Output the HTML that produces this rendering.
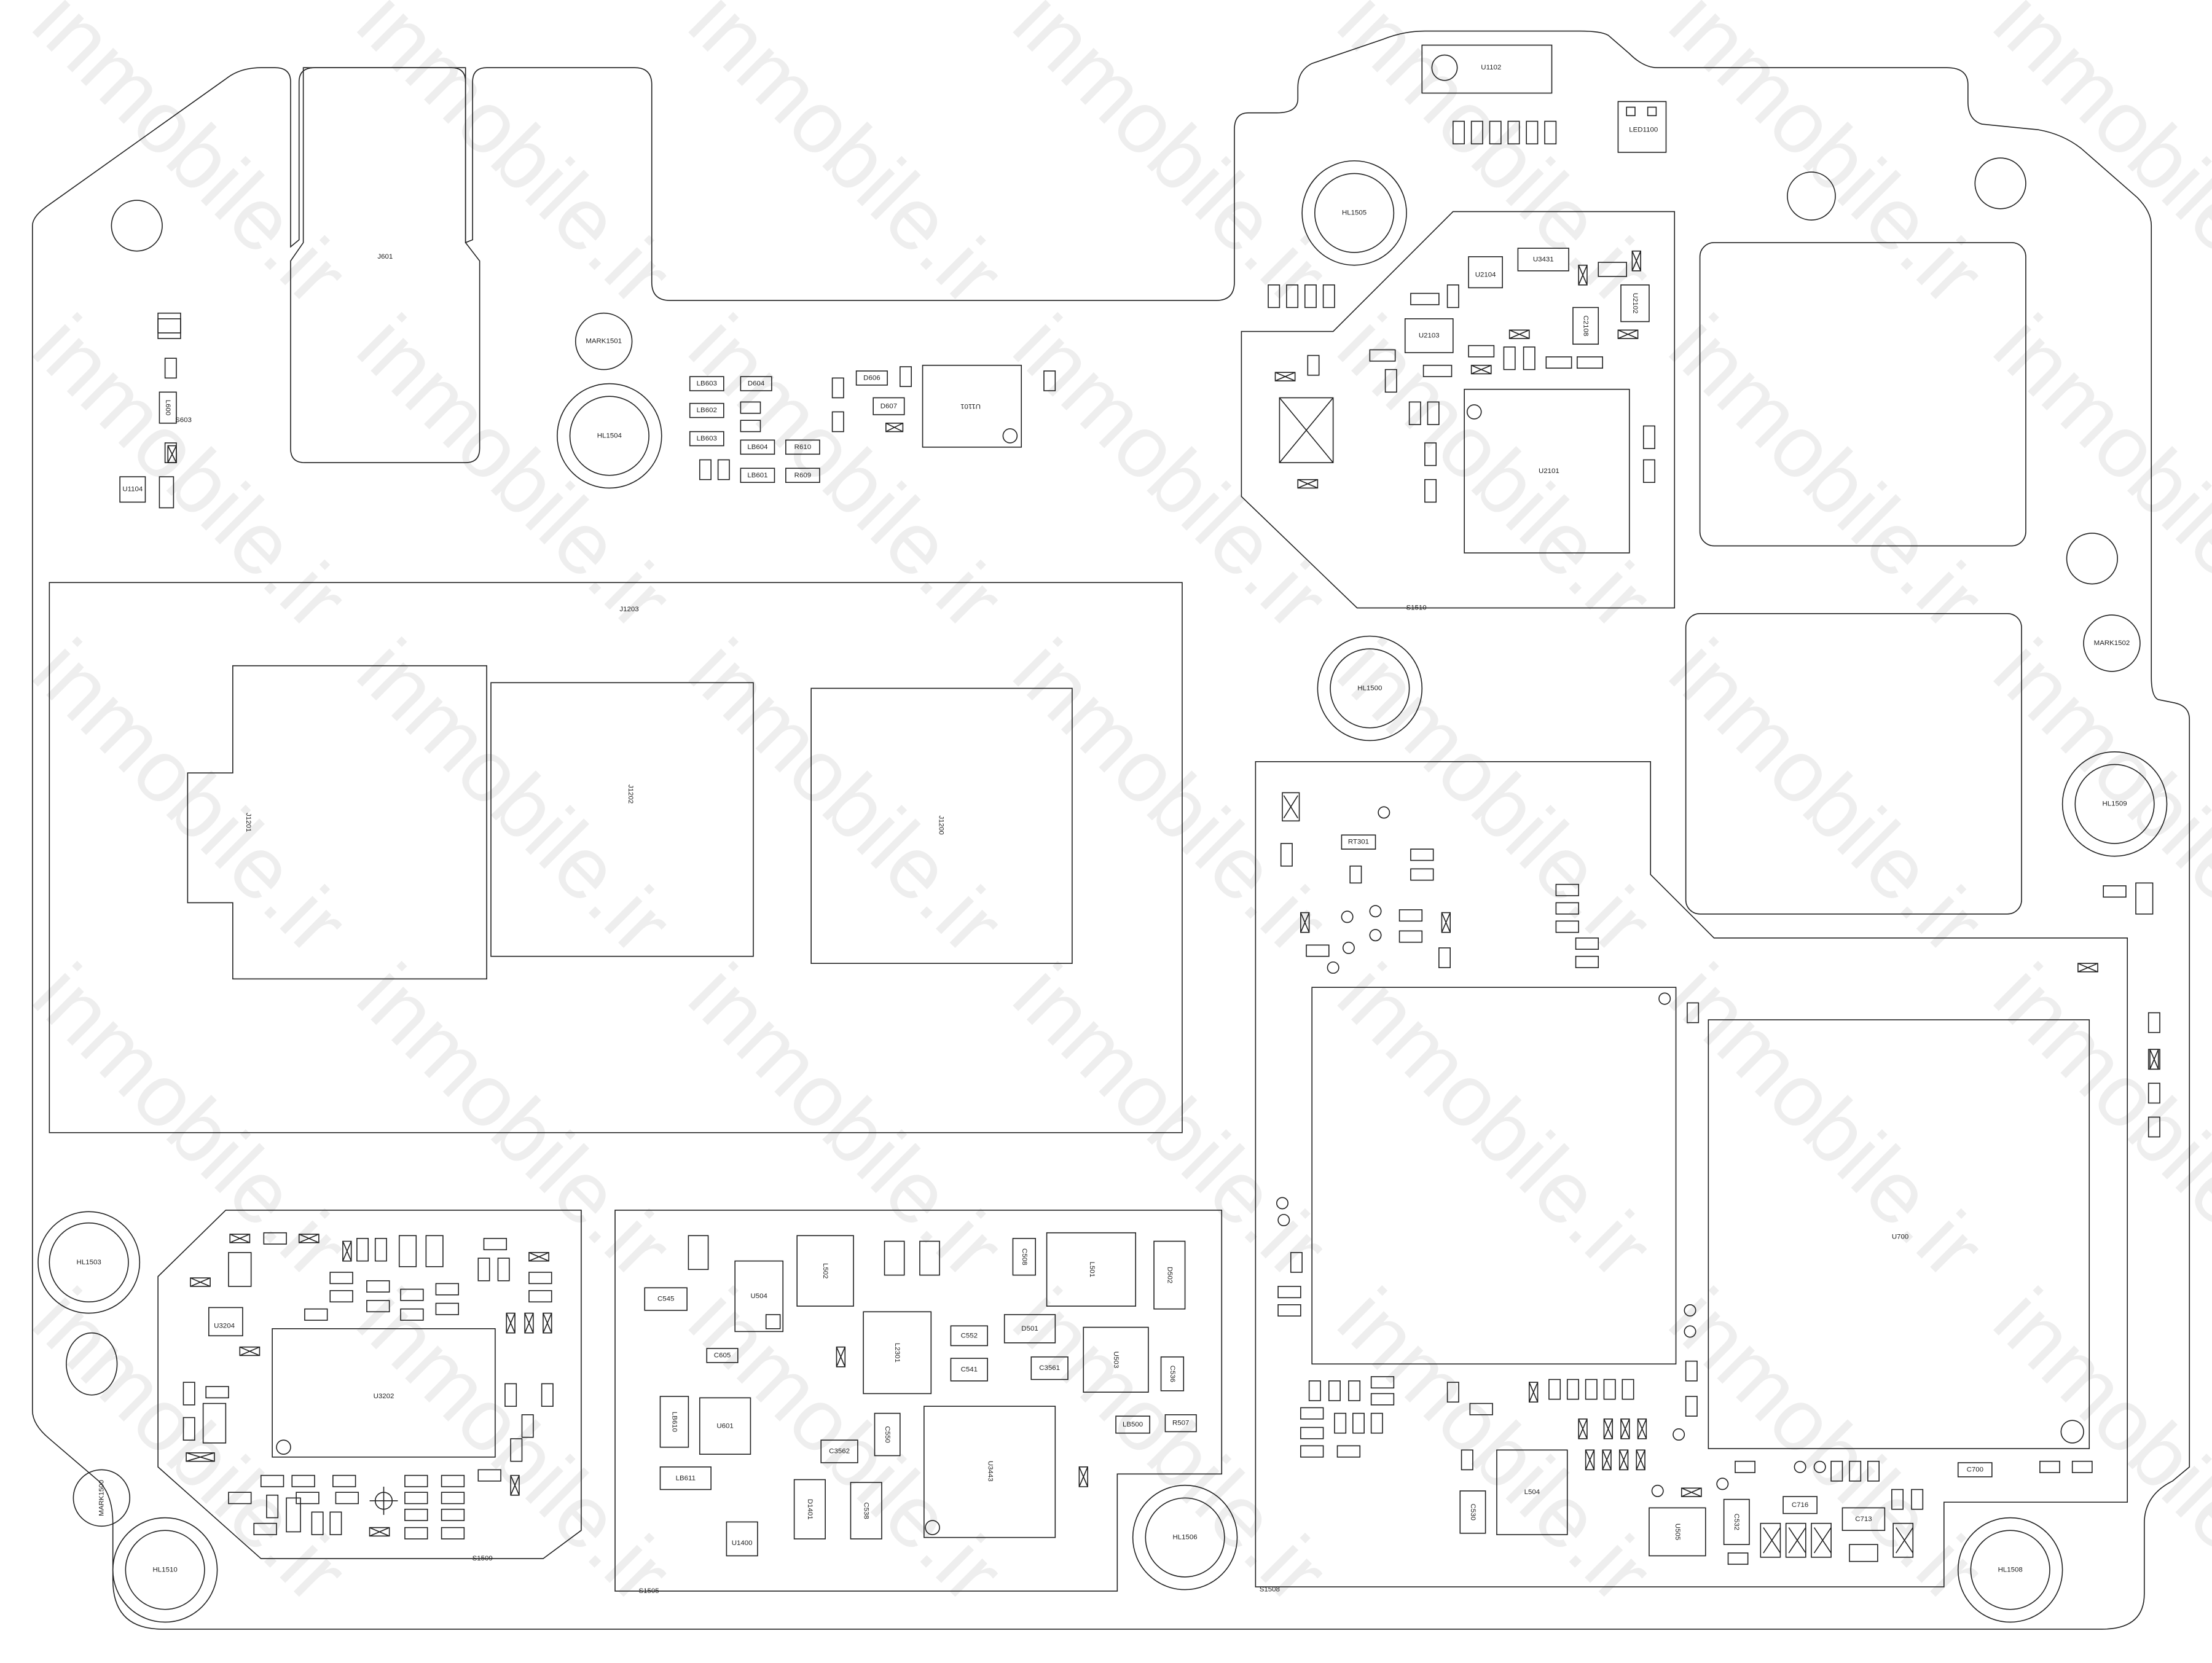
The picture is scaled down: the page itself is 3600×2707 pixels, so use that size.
<!DOCTYPE html>
<html><head><meta charset="utf-8"><style>
html,body{margin:0;padding:0;background:#fff;}
svg{display:block;}
text{font-family:"Liberation Sans",sans-serif;}
.s{fill:none;stroke:#222;stroke-width:0.7;}
.t{font-size:5px;fill:#222;text-anchor:middle;dominant-baseline:middle;}
.w{font-size:62px;fill:#eeeeee;font-family:"Liberation Sans",sans-serif;}
</style></head><body>
<svg width="3600" height="2707" viewBox="0 0 1568 1179" preserveAspectRatio="none" xmlns="http://www.w3.org/2000/svg">
<rect width="1568" height="1179" fill="#fff"/>
<g>
<text class="w" transform="translate(20,20) rotate(45)">inmobile.ir</text>
<text class="w" transform="translate(250,20) rotate(45)">inmobile.ir</text>
<text class="w" transform="translate(485,20) rotate(45)">inmobile.ir</text>
<text class="w" transform="translate(715,20) rotate(45)">inmobile.ir</text>
<text class="w" transform="translate(945,20) rotate(45)">inmobile.ir</text>
<text class="w" transform="translate(1180,20) rotate(45)">inmobile.ir</text>
<text class="w" transform="translate(1410,20) rotate(45)">inmobile.ir</text>
<text class="w" transform="translate(20,250) rotate(45)">inmobile.ir</text>
<text class="w" transform="translate(250,250) rotate(45)">inmobile.ir</text>
<text class="w" transform="translate(485,250) rotate(45)">inmobile.ir</text>
<text class="w" transform="translate(715,250) rotate(45)">inmobile.ir</text>
<text class="w" transform="translate(945,250) rotate(45)">inmobile.ir</text>
<text class="w" transform="translate(1180,250) rotate(45)">inmobile.ir</text>
<text class="w" transform="translate(1410,250) rotate(45)">inmobile.ir</text>
<text class="w" transform="translate(20,480) rotate(45)">inmobile.ir</text>
<text class="w" transform="translate(250,480) rotate(45)">inmobile.ir</text>
<text class="w" transform="translate(485,480) rotate(45)">inmobile.ir</text>
<text class="w" transform="translate(715,480) rotate(45)">inmobile.ir</text>
<text class="w" transform="translate(945,480) rotate(45)">inmobile.ir</text>
<text class="w" transform="translate(1180,480) rotate(45)">inmobile.ir</text>
<text class="w" transform="translate(1410,480) rotate(45)">inmobile.ir</text>
<text class="w" transform="translate(20,710) rotate(45)">inmobile.ir</text>
<text class="w" transform="translate(250,710) rotate(45)">inmobile.ir</text>
<text class="w" transform="translate(485,710) rotate(45)">inmobile.ir</text>
<text class="w" transform="translate(715,710) rotate(45)">inmobile.ir</text>
<text class="w" transform="translate(945,710) rotate(45)">inmobile.ir</text>
<text class="w" transform="translate(1180,710) rotate(45)">inmobile.ir</text>
<text class="w" transform="translate(1410,710) rotate(45)">inmobile.ir</text>
<text class="w" transform="translate(20,940) rotate(45)">inmobile.ir</text>
<text class="w" transform="translate(250,940) rotate(45)">inmobile.ir</text>
<text class="w" transform="translate(485,940) rotate(45)">inmobile.ir</text>
<text class="w" transform="translate(715,940) rotate(45)">inmobile.ir</text>
<text class="w" transform="translate(945,940) rotate(45)">inmobile.ir</text>
<text class="w" transform="translate(1180,940) rotate(45)">inmobile.ir</text>
<text class="w" transform="translate(1410,940) rotate(45)">inmobile.ir</text>
</g>

<!-- board outline -->
<path class="s" d="M23,160 L23,1000 Q23,1010 35,1020 L70,1050 Q80,1060 80,1080 L80,1120 Q80,1155 115,1155 L1490,1155 Q1520,1155 1520,1130 L1520,1080 Q1520,1060 1540,1050 L1552,1040 L1552,510 Q1552,500 1540,498 L1530,496 Q1525,494 1525,480 L1525,160 Q1525,150 1515,140 L1475,105 Q1462,95 1445,92 L1405,88 Q1395,85 1395,72 L1395,60 Q1395,48 1380,48 L1175,48 Q1165,48 1155,38 L1140,25 Q1135,22 1120,22 L1010,22 Q995,22 980,28 L930,45 Q920,50 920,62 L920,70 Q920,80 905,80 L885,80 Q875,80 875,92 L875,200 Q875,213 862,213 L475,213 Q462,213 462,200 L462,60 Q462,48 450,48 L345,48 Q335,48 335,58 L335,170 L330,172 L330,58 Q330,48 320,48 L223,48 Q212,48 212,58 L212,170 L206,175 L206,58 Q206,48 195,48 L185,48 Q170,48 160,56 L35,145 Q23,153 23,160 Z"/>
<!-- J601 -->
<path class="s" d="M215,48 L330,48 L330,172 L340,185 L340,318 Q340,328 330,328 L216,328 Q206,328 206,318 L206,185 L215,172 Z"/>
<text class="t" x="273" y="182">J601</text>

<!-- holes -->
<circle class="s" cx="97" cy="160" r="18"/>
<circle class="s" cx="1284" cy="139" r="17"/>
<circle class="s" cx="1418" cy="130" r="18"/>
<circle class="s" cx="1483" cy="396" r="18"/>
<ellipse class="s" cx="65" cy="967" rx="18" ry="22"/>
<g>
<circle class="s" cx="428" cy="242" r="20"/><text class="t" x="428" y="242">MARK1501</text>
<circle class="s" cx="432" cy="309" r="37"/><circle class="s" cx="432" cy="309" r="28"/><text class="t" x="432" y="309">HL1504</text>
<circle class="s" cx="960" cy="151" r="37"/><circle class="s" cx="960" cy="151" r="28"/><text class="t" x="960" y="151">HL1505</text>
<circle class="s" cx="971" cy="488" r="37"/><circle class="s" cx="971" cy="488" r="28"/><text class="t" x="971" y="488">HL1500</text>
<circle class="s" cx="1499" cy="570" r="37"/><circle class="s" cx="1499" cy="570" r="28"/><text class="t" x="1499" y="570">HL1509</text>
<circle class="s" cx="1497" cy="456" r="20"/><text class="t" x="1497" y="456">MARK1502</text>
<circle class="s" cx="63" cy="895" r="36"/><circle class="s" cx="63" cy="895" r="28"/><text class="t" x="63" y="895">HL1503</text>
<circle class="s" cx="72" cy="1062" r="20"/><text class="t" transform="translate(72,1062) rotate(-90)">MARK1500</text>
<circle class="s" cx="117" cy="1113" r="37"/><circle class="s" cx="117" cy="1113" r="28"/><text class="t" x="117" y="1113">HL1510</text>
<circle class="s" cx="840" cy="1090" r="37"/><circle class="s" cx="840" cy="1090" r="28"/><text class="t" x="840" y="1090">HL1506</text>
<circle class="s" cx="1425" cy="1113" r="37"/><circle class="s" cx="1425" cy="1113" r="28"/><text class="t" x="1425" y="1113">HL1508</text>
</g>

<!-- J1203 block -->
<rect class="s" x="35" y="413" width="803" height="390"/>
<text class="t" x="446" y="432">J1203</text>
<path class="s" d="M165,472 L345,472 L345,694 L165,694 L165,640 L133,640 L133,548 L165,548 Z"/>
<text class="t" transform="translate(176,583) rotate(90)">J1201</text>
<rect class="s" x="348" y="484" width="186" height="194"/>
<text class="t" transform="translate(447,563) rotate(90)">J1202</text>
<rect class="s" x="575" y="488" width="185" height="195"/>
<text class="t" transform="translate(667,585) rotate(90)">J1200</text>

<!-- top right shield -->
<path class="s" d="M880,235 L945,235 L1030,150 L1187,150 L1187,431 L962,431 L880,352 Z"/>
<text class="t" x="1004" y="431">S1510</text>
<rect class="s" x="1038" y="276" width="117" height="116"/><circle class="s" cx="1045" cy="292" r="5"/>
<text class="t" x="1098" y="334">U2101</text>
<rect class="s" x="907" y="282" width="38" height="46"/>
<path class="s" d="M907,282 L945,328 M945,282 L907,328"/>
<rect class="s" x="1205" y="172" width="231" height="215" rx="10"/>
<rect class="s" x="1195" y="435" width="238" height="213" rx="10"/>

<!-- U1102, LED -->
<rect class="s" x="1008" y="32" width="92" height="34"/><circle class="s" cx="1024" cy="48" r="9"/><text class="t" x="1057" y="48">U1102</text>
<rect class="s" x="1147" y="72" width="34" height="36"/><rect class="s" x="1153" y="76" width="6" height="6"/><rect class="s" x="1168" y="76" width="6" height="6"/><text class="t" x="1165" y="92">LED1100</text>

<!-- bottom right shield -->
<path class="s" d="M890,540 L1170,540 L1170,620 L1215,665 L1508,665 L1508,1065 L1378,1065 L1378,1125 L890,1125 Z"/>
<text class="t" x="900" y="1127">S1508</text>
<rect class="s" x="930" y="700" width="258" height="267"/><circle class="s" cx="1180" cy="708" r="4"/>
<rect class="s" x="1211" y="723" width="270" height="304"/><circle class="s" cx="1469" cy="1015" r="8"/>
<text class="t" x="1347" y="877">U700</text>
<rect class="s" x="1061" y="1028" width="50" height="60"/><text class="t" x="1086" y="1058">L504</text>
<rect class="s" x="1169" y="1069" width="40" height="34"/><text class="t" transform="translate(1189,1086) rotate(90)">U505</text>
<rect class="s" x="951" y="592" width="24" height="10"/><text class="t" x="963" y="597">RT301</text>
<rect class="s" x="1388" y="1037" width="24" height="10"/><text class="t" x="1400" y="1042">C700</text>
<rect class="s" x="1264" y="1061" width="24" height="12"/><text class="t" x="1276" y="1067">C716</text>
<rect class="s" x="1306" y="1069" width="30" height="16"/><text class="t" x="1321" y="1077">C713</text>
<rect class="s" x="1222" y="1063" width="18" height="32"/><text class="t" transform="translate(1231,1079) rotate(90)">C532</text>
<rect class="s" x="1035" y="1057" width="18" height="30"/><text class="t" transform="translate(1044,1072) rotate(90)">C530</text>

<!-- bottom-left shield -->
<path class="s" d="M160,858 L412,858 L412,1085 L385,1105 L185,1105 L112,1040 L112,905 Z"/>
<text class="t" x="342" y="1105">S1509</text>
<rect class="s" x="193" y="942" width="158" height="91"/><circle class="s" cx="201" cy="1026" r="5"/>
<text class="t" x="272" y="990">U3202</text>
<rect class="s" x="148" y="927" width="24" height="20"/><text class="t" x="159" y="940">U3204</text>
<rect class="s" x="162" y="888" width="16" height="24"/>
<rect class="s" x="144" y="995" width="16" height="28"/>
<circle class="s" cx="272" cy="1064" r="6"/><path class="s" d="M262,1064 L282,1064 M272,1054 L272,1074"/>

<!-- middle-bottom shield -->
<path class="s" d="M436,858 L866,858 L866,1045 L792,1045 L792,1128 L436,1128 Z"/>
<text class="t" x="460" y="1128">S1505</text>
<rect class="s" x="655" y="997" width="93" height="93"/><circle class="s" cx="661" cy="1083" r="5"/><text class="t" transform="translate(702,1043) rotate(90)">U3443</text>
<rect class="s" x="612" y="930" width="48" height="58"/><text class="t" transform="translate(636,959) rotate(90)">L2301</text>
<rect class="s" x="565" y="876" width="40" height="50"/><text class="t" transform="translate(585,901) rotate(90)">L502</text>
<rect class="s" x="742" y="874" width="63" height="52"/><text class="t" transform="translate(774,900) rotate(90)">L501</text>
<rect class="s" x="768" y="941" width="46" height="46"/><text class="t" transform="translate(791,964) rotate(90)">U503</text>
<rect class="s" x="521" y="894" width="34" height="50"/><text class="t" x="538" y="919">U504</text>
<rect class="s" x="496" y="991" width="36" height="40"/><text class="t" x="514" y="1011">U601</text>
<rect class="s" x="818" y="880" width="22" height="48"/><text class="t" transform="translate(829,904) rotate(90)">D502</text>
<rect class="s" x="712" y="932" width="36" height="20"/><text class="t" x="730" y="942">D501</text>
<rect class="s" x="563" y="1049" width="22" height="42"/><text class="t" transform="translate(574,1070) rotate(90)">D1401</text>
<rect class="s" x="603" y="1051" width="22" height="40"/><text class="t" transform="translate(614,1071) rotate(90)">C538</text>
<rect class="s" x="515" y="1079" width="22" height="24"/><text class="t" x="526" y="1094">U1400</text>
<rect class="s" x="457" y="913" width="30" height="16"/><text class="t" x="472" y="921">C545</text>
<rect class="s" x="468" y="990" width="20" height="36"/><text class="t" transform="translate(478,1008) rotate(90)">LB610</text>
<rect class="s" x="468" y="1040" width="36" height="16"/><text class="t" x="486" y="1048">LB611</text>
<rect class="s" x="674" y="940" width="26" height="14"/><text class="t" x="687" y="947">C552</text>
<rect class="s" x="674" y="963" width="26" height="16"/><text class="t" x="687" y="971">C541</text>
<rect class="s" x="620" y="1002" width="18" height="30"/><text class="t" transform="translate(629,1017) rotate(90)">C550</text>
<rect class="s" x="582" y="1021" width="26" height="16"/><text class="t" x="595" y="1029">C3562</text>
<rect class="s" x="731" y="962" width="26" height="16"/><text class="t" x="744" y="970">C3561</text>
<rect class="s" x="791" y="1004" width="24" height="12"/><text class="t" x="803" y="1010">LB500</text>
<rect class="s" x="826" y="1003" width="22" height="12"/><text class="t" x="837" y="1009">R507</text>
<rect class="s" x="718" y="878" width="16" height="26"/><text class="t" transform="translate(726,891) rotate(90)">C508</text>
<rect class="s" x="501" y="956" width="22" height="10"/><text class="t" x="512" y="961">C605</text>
<rect class="s" x="823" y="962" width="16" height="24"/><text class="t" transform="translate(831,974) rotate(90)">C536</text>
<rect class="s" x="488" y="876" width="14" height="24"/><rect class="s" x="652" y="880" width="14" height="24"/><rect class="s" x="627" y="880" width="14" height="24"/>
<rect class="s" x="543" y="932" width="10" height="10"/>

<!-- top mid area -->
<rect class="s" x="654" y="259" width="70" height="58"/><circle class="s" cx="716" cy="309" r="5"/><text class="t" transform="translate(688,288) rotate(180)">U1101</text>
<rect class="s" x="489" y="267" width="24" height="10"/><text class="t" x="501" y="272">LB603</text>
<rect class="s" x="489" y="286" width="24" height="10"/><text class="t" x="501" y="291">LB602</text>
<rect class="s" x="489" y="306" width="24" height="10"/><text class="t" x="501" y="311">LB603</text>
<rect class="s" x="525" y="267" width="22" height="10"/><text class="t" x="536" y="272">D604</text>
<rect class="s" x="525" y="312" width="24" height="10"/><text class="t" x="537" y="317">LB604</text>
<rect class="s" x="525" y="332" width="24" height="10"/><text class="t" x="537" y="337">LB601</text>
<rect class="s" x="557" y="312" width="24" height="10"/><text class="t" x="569" y="317">R610</text>
<rect class="s" x="557" y="332" width="24" height="10"/><text class="t" x="569" y="337">R609</text>
<rect class="s" x="607" y="263" width="22" height="10"/><text class="t" x="618" y="268">D606</text>
<rect class="s" x="619" y="282" width="22" height="12"/><text class="t" x="630" y="288">D607</text>
<rect class="s" x="525" y="285" width="14" height="8"/><rect class="s" x="525" y="298" width="14" height="8"/>
<rect class="s" x="590" y="268" width="8" height="14"/><rect class="s" x="590" y="292" width="8" height="14"/><rect class="s" x="638" y="260" width="8" height="14"/><rect class="s" x="740" y="263" width="8" height="14"/>
<rect class="s" x="496" y="326" width="8" height="14"/><rect class="s" x="509" y="326" width="8" height="14"/>

<!-- left small -->
<rect class="s" x="112" y="222" width="16" height="18"/><rect class="s" x="112" y="226" width="16" height="10" fill="#555"/>
<rect class="s" x="117" y="254" width="8" height="14"/>
<rect class="s" x="113" y="278" width="12" height="22"/><text class="t" transform="translate(119,289) rotate(90)">L600</text>
<text class="t" x="130" y="298">S603</text>
<rect class="s" x="117" y="314" width="8" height="14"/>
<rect class="s" x="85" y="338" width="18" height="18"/><text class="t" x="94" y="347">U1104</text>
<rect class="s" x="113" y="338" width="10" height="22"/>

<!-- top right small -->
<g>
<rect class="s" x="1030" y="86" width="8" height="16"/><rect class="s" x="1043" y="86" width="8" height="16"/><rect class="s" x="1056" y="86" width="8" height="16"/><rect class="s" x="1069" y="86" width="8" height="16"/><rect class="s" x="1082" y="86" width="8" height="16"/><rect class="s" x="1095" y="86" width="8" height="16"/>
<rect class="s" x="1041" y="182" width="24" height="22"/><text class="t" x="1053" y="195">U2104</text>
<rect class="s" x="1076" y="176" width="36" height="16"/><text class="t" x="1094" y="184">U3431</text>
<rect class="s" x="996" y="226" width="34" height="24"/><text class="t" x="1013" y="238">U2103</text>
<rect class="s" x="1149" y="202" width="20" height="26"/><text class="t" transform="translate(1159,215) rotate(90)">U2102</text>
<rect class="s" x="1115" y="218" width="18" height="26"/><text class="t" transform="translate(1124,231) rotate(90)">C2108</text>
<rect class="s" x="1133" y="186" width="20" height="10"/>
<rect class="s" x="899" y="202" width="8" height="16"/><rect class="s" x="912" y="202" width="8" height="16"/><rect class="s" x="925" y="202" width="8" height="16"/><rect class="s" x="938" y="202" width="8" height="16"/>
<rect class="s" x="971" y="248" width="18" height="8"/><rect class="s" x="1009" y="259" width="20" height="8"/><rect class="s" x="1041" y="245" width="18" height="8"/><rect class="s" x="1096" y="253" width="18" height="8"/><rect class="s" x="1118" y="253" width="18" height="8"/>
<rect class="s" x="1000" y="208" width="20" height="8"/><rect class="s" x="1026" y="202" width="8" height="16"/>
<rect class="s" x="999" y="285" width="8" height="16"/><rect class="s" x="1012" y="285" width="8" height="16"/><rect class="s" x="1010" y="314" width="8" height="16"/><rect class="s" x="1010" y="340" width="8" height="16"/>
<rect class="s" x="1165" y="302" width="8" height="16"/><rect class="s" x="1165" y="326" width="8" height="16"/>
<rect class="s" x="1066" y="246" width="8" height="16"/><rect class="s" x="1080" y="246" width="8" height="16"/>
<rect class="s" x="927" y="252" width="8" height="14"/><rect class="s" x="982" y="262" width="8" height="16"/>
</g>

<!-- right side small -->
<rect class="s" x="1491" y="628" width="16" height="8"/><rect class="s" x="1514" y="626" width="12" height="22"/>
<rect class="s" x="1523" y="718" width="8" height="14"/><rect class="s" x="1523" y="744" width="8" height="14"/><rect class="s" x="1523" y="768" width="8" height="14"/><rect class="s" x="1523" y="792" width="8" height="14"/>
<rect class="s" x="1230" y="1036" width="14" height="8"/><rect class="s" x="1446" y="1036" width="14" height="8"/><rect class="s" x="1469" y="1036" width="14" height="8"/>

<!-- bottom right mid small parts -->
<g>
<rect class="s" x="909" y="562" width="12" height="20"/><rect class="s" x="908" y="598" width="8" height="16"/><rect class="s" x="957" y="614" width="8" height="12"/>
<rect class="s" x="1000" y="602" width="16" height="8"/><rect class="s" x="1000" y="616" width="16" height="8"/><rect class="s" x="992" y="645" width="16" height="8"/><rect class="s" x="992" y="660" width="16" height="8"/>
<rect class="s" x="1103" y="627" width="16" height="8"/><rect class="s" x="1103" y="640" width="16" height="8"/><rect class="s" x="1103" y="653" width="16" height="8"/><rect class="s" x="1117" y="665" width="16" height="8"/><rect class="s" x="1117" y="678" width="16" height="8"/>
<rect class="s" x="926" y="670" width="16" height="8"/><rect class="s" x="1020" y="672" width="8" height="14"/>
<rect class="s" x="1196" y="711" width="8" height="14"/>
<rect class="s" x="906" y="912" width="16" height="8"/><rect class="s" x="906" y="925" width="16" height="8"/><rect class="s" x="915" y="888" width="8" height="14"/>
<rect class="s" x="928" y="979" width="8" height="14"/><rect class="s" x="942" y="979" width="8" height="14"/><rect class="s" x="956" y="979" width="8" height="14"/><rect class="s" x="972" y="976" width="16" height="8"/><rect class="s" x="972" y="988" width="16" height="8"/>
<rect class="s" x="922" y="998" width="16" height="8"/><rect class="s" x="922" y="1012" width="16" height="8"/><rect class="s" x="922" y="1025" width="16" height="8"/><rect class="s" x="948" y="1025" width="16" height="8"/>
<rect class="s" x="946" y="1002" width="8" height="14"/><rect class="s" x="959" y="1002" width="8" height="14"/><rect class="s" x="972" y="1002" width="8" height="14"/>
<rect class="s" x="1026" y="980" width="8" height="14"/><rect class="s" x="1042" y="995" width="16" height="8"/><rect class="s" x="1036" y="1028" width="8" height="14"/>
<rect class="s" x="1098" y="978" width="8" height="14"/><rect class="s" x="1111" y="978" width="8" height="14"/><rect class="s" x="1124" y="978" width="8" height="14"/><rect class="s" x="1137" y="978" width="8" height="14"/><rect class="s" x="1150" y="978" width="8" height="14"/>
<rect class="s" x="1195" y="965" width="8" height="14"/><rect class="s" x="1195" y="990" width="8" height="14"/>
<rect class="s" x="1298" y="1036" width="8" height="14"/><rect class="s" x="1311" y="1036" width="8" height="14"/><rect class="s" x="1324" y="1036" width="8" height="14"/>
<rect class="s" x="1341" y="1056" width="8" height="14"/><rect class="s" x="1355" y="1056" width="8" height="14"/>
<rect class="s" x="1225" y="1101" width="14" height="8"/>
<rect class="s" x="1248" y="1080" width="14" height="24"/><rect class="s" x="1266" y="1080" width="14" height="24"/><rect class="s" x="1284" y="1080" width="14" height="24"/><rect class="s" x="1342" y="1080" width="14" height="24"/><rect class="s" x="1311" y="1095" width="20" height="12"/>
</g>
<g class="s">
<circle cx="981" cy="576" r="4"/><circle cx="955" cy="650" r="4"/><circle cx="975" cy="646" r="4"/><circle cx="975" cy="663" r="4"/><circle cx="956" cy="672" r="4"/><circle cx="945" cy="686" r="4"/><circle cx="909" cy="853" r="4"/><circle cx="910" cy="865" r="4"/><circle cx="1198" cy="929" r="4"/><circle cx="1198" cy="944" r="4"/><circle cx="1190" cy="1017" r="4"/><circle cx="1175" cy="1057" r="4"/><circle cx="1221" cy="1052" r="4"/><circle cx="1276" cy="1040" r="4"/><circle cx="1290" cy="1040" r="4"/>
</g>
<!-- bottom left small parts -->
<g>
<rect class="s" x="187" y="874" width="16" height="8"/><rect class="s" x="253" y="878" width="8" height="16"/><rect class="s" x="266" y="878" width="8" height="16"/><rect class="s" x="283" y="876" width="12" height="22"/><rect class="s" x="302" y="876" width="12" height="22"/>
<rect class="s" x="343" y="878" width="16" height="8"/><rect class="s" x="339" y="892" width="8" height="16"/><rect class="s" x="353" y="892" width="8" height="16"/>
<rect class="s" x="234" y="902" width="16" height="8"/><rect class="s" x="260" y="908" width="16" height="8"/><rect class="s" x="234" y="915" width="16" height="8"/><rect class="s" x="260" y="922" width="16" height="8"/><rect class="s" x="284" y="914" width="16" height="8"/><rect class="s" x="284" y="928" width="16" height="8"/><rect class="s" x="309" y="910" width="16" height="8"/><rect class="s" x="309" y="924" width="16" height="8"/><rect class="s" x="216" y="928" width="16" height="8"/>
<rect class="s" x="375" y="902" width="16" height="8"/><rect class="s" x="375" y="915" width="16" height="8"/>
<rect class="s" x="130" y="980" width="8" height="16"/><rect class="s" x="130" y="1005" width="8" height="16"/><rect class="s" x="146" y="983" width="16" height="8"/>
<rect class="s" x="358" y="981" width="8" height="16"/><rect class="s" x="384" y="981" width="8" height="16"/><rect class="s" x="370" y="1003" width="8" height="16"/><rect class="s" x="362" y="1020" width="8" height="16"/>
<rect class="s" x="185" y="1046" width="16" height="8"/><rect class="s" x="207" y="1046" width="16" height="8"/><rect class="s" x="236" y="1046" width="16" height="8"/><rect class="s" x="287" y="1046" width="16" height="8"/><rect class="s" x="313" y="1046" width="16" height="8"/><rect class="s" x="339" y="1042" width="16" height="8"/>
<rect class="s" x="162" y="1058" width="16" height="8"/><rect class="s" x="210" y="1058" width="16" height="8"/><rect class="s" x="238" y="1058" width="16" height="8"/><rect class="s" x="287" y="1058" width="16" height="8"/><rect class="s" x="313" y="1058" width="16" height="8"/><rect class="s" x="287" y="1070" width="16" height="8"/><rect class="s" x="313" y="1070" width="16" height="8"/><rect class="s" x="287" y="1083" width="16" height="8"/><rect class="s" x="313" y="1083" width="16" height="8"/>
<rect class="s" x="189" y="1060" width="8" height="16"/><rect class="s" x="203" y="1062" width="10" height="24"/><rect class="s" x="221" y="1072" width="8" height="16"/><rect class="s" x="234" y="1072" width="8" height="16"/><rect class="s" x="180" y="1080" width="16" height="8"/>
</g>
<!-- X-marked pads -->
<g class="s">
<path d="M628,300h12v6h-12zM628,300l12,6M640,300l-12,6"/>
<path d="M904,264h14v6h-14zM904,264l14,6M918,264l-14,6"/>
<path d="M920,340h14v6h-14zM920,340l14,6M934,340l-14,6"/>
<path d="M1070,234h14v6h-14zM1070,234l14,6M1084,234l-14,6"/>
<path d="M1043,259h14v6h-14zM1043,259l14,6M1057,259l-14,6"/>
<path d="M1147,234h14v6h-14zM1147,234l14,6M1161,234l-14,6"/>
<path d="M1473,683h14v6h-14zM1473,683l14,6M1487,683l-14,6"/>
<path d="M1192,1055h14v6h-14zM1192,1055l14,6M1206,1055l-14,6"/>
<path d="M163,875h14v6h-14zM163,875l14,6M177,875l-14,6"/>
<path d="M212,875h14v6h-14zM212,875l14,6M226,875l-14,6"/>
<path d="M135,906h14v6h-14zM135,906l14,6M149,906l-14,6"/>
<path d="M375,888h14v6h-14zM375,888l14,6M389,888l-14,6"/>
<path d="M170,955h14v6h-14zM170,955l14,6M184,955l-14,6"/>
<path d="M262,1083h14v6h-14zM262,1083l14,6M276,1083l-14,6"/>
<path d="M132,1030h20v6h-20zM132,1030l20,6M152,1030l-20,6"/>
<path d="M1119,1006h6v14h-6zM1119,1006l6,14M1125,1006l-6,14"/>
<path d="M1137,1006h6v14h-6zM1137,1006l6,14M1143,1006l-6,14"/>
<path d="M1149,1006h6v14h-6zM1149,1006l6,14M1155,1006l-6,14"/>
<path d="M1161,1006h6v14h-6zM1161,1006l6,14M1167,1006l-6,14"/>
<path d="M1124,1028h6v14h-6zM1124,1028l6,14M1130,1028l-6,14"/>
<path d="M1136,1028h6v14h-6zM1136,1028l6,14M1142,1028l-6,14"/>
<path d="M1148,1028h6v14h-6zM1148,1028l6,14M1154,1028l-6,14"/>
<path d="M1160,1028h6v14h-6zM1160,1028l6,14M1166,1028l-6,14"/>
<path d="M1084,980h6v14h-6zM1084,980l6,14M1090,980l-6,14"/>
<path d="M922,647h6v14h-6zM922,647l6,14M928,647l-6,14"/>
<path d="M1022,647h6v14h-6zM1022,647l6,14M1028,647l-6,14"/>
<path d="M1119,188h6v14h-6zM1119,188l6,14M1125,188l-6,14"/>
<path d="M1157,178h6v14h-6zM1157,178l6,14M1163,178l-6,14"/>
<path d="M119,316h6v12h-6zM119,316l6,12M125,316l-6,12"/>
<path d="M593,955h6v14h-6zM593,955l6,14M599,955l-6,14"/>
<path d="M765,1040h6v14h-6zM765,1040l6,14M771,1040l-6,14"/>
<path d="M1524,744h6v14h-6zM1524,744l6,14M1530,744l-6,14"/>
<path d="M243,880h6v14h-6zM243,880l6,14M249,880l-6,14"/>
<path d="M362,1046h6v14h-6zM362,1046l6,14M368,1046l-6,14"/>
<path d="M359,931h6v14h-6zM359,931l6,14M365,931l-6,14"/>
<path d="M372,931h6v14h-6zM372,931l6,14M378,931l-6,14"/>
<path d="M385,931h6v14h-6zM385,931l6,14M391,931l-6,14"/>
<path d="M1250,1083l12,18M1262,1083l-12,18M1268,1083l12,18M1280,1083l-12,18M1286,1083l12,18M1298,1083l-12,18M1344,1083l12,18M1356,1083l-12,18"/>
<path d="M910,564l10,16M920,564l-10,16"/>
</g>
</svg>
</body></html>
